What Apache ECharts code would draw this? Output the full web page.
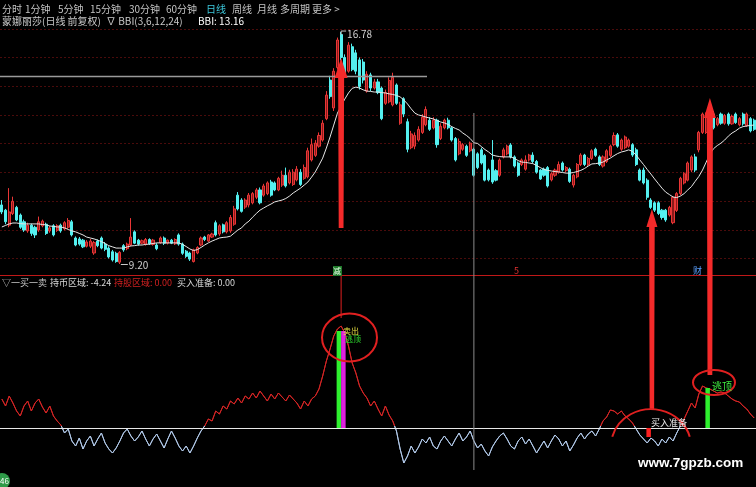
<!DOCTYPE html>
<html><head><meta charset="utf-8">
<script src="https://cdn.jsdelivr.net/npm/echarts@6/dist/echarts.min.js"></script>
<style>html,body{margin:0;padding:0;background:#000}#c{width:756px;height:487px}</style>
</head><body><div id="c"></div>
<script>
const open = [
11.13,10.96,10.47,10.85,11.05,10.80,10.58,10.28,10.47,10.40,
10.31,10.45,10.50,10.28,10.45,10.30,10.47,10.35,10.40,10.58,
10.05,10.02,9.98,9.78,9.78,9.56,9.95,10.05,9.85,9.72,
9.60,9.55,9.26,9.80,9.70,9.82,10.25,9.98,9.88,9.85,
10.00,9.84,9.82,9.90,10.05,9.88,9.98,9.86,10.15,9.85,
9.62,9.56,9.28,9.56,9.82,10.08,9.95,10.08,10.55,10.18,
10.48,10.25,10.28,10.50,11.45,11.29,11.06,11.13,11.20,11.38,
11.62,11.45,11.50,11.88,11.85,11.62,11.78,12.10,11.85,11.80,
11.95,12.20,12.00,12.05,12.60,12.75,13.05,13.25,13.95,15.21,
14.30,15.62,16.70,15.95,15.50,16.30,16.10,15.87,15.80,14.85,
15.38,14.95,15.15,14.95,14.45,14.50,14.40,15.05,13.80,14.60,
13.85,13.00,13.05,13.25,13.50,13.75,13.90,13.65,13.90,13.30,
13.65,13.90,13.65,13.30,12.80,12.95,13.05,12.90,12.95,12.80,
12.93,12.75,12.27,12.60,12.25,12.10,12.70,12.80,13.09,12.70,
12.50,12.45,12.30,12.60,12.76,12.55,12.27,12.30,12.35,11.95,
12.10,12.20,12.50,12.25,12.30,11.78,12.05,12.45,12.76,12.45,
12.65,12.95,12.70,12.40,12.55,12.75,13.10,13.42,12.95,13.00,
13.05,13.10,12.93,12.27,12.27,11.94,11.29,11.20,11.20,10.96,
10.96,10.80,10.55,10.95,11.50,11.85,11.94,12.27,12.70,12.93,
13.50,13.50,13.95,14.10,13.75,14.10,13.80,14.10,13.78,14.10,
13.75,14.10,13.72,13.95,13.90];
const close = [
10.90,10.58,10.90,11.25,10.64,10.40,10.31,10.47,10.20,10.15,
10.58,10.60,10.20,10.38,10.15,10.45,10.28,10.55,10.62,10.15,
9.82,9.85,9.76,9.92,9.95,9.90,9.80,9.72,9.68,9.43,
9.33,9.28,9.58,9.66,9.85,10.08,9.88,9.85,9.96,10.00,
9.86,9.98,9.70,10.05,9.88,9.98,9.88,10.00,9.85,9.55,
9.45,9.36,9.66,9.74,10.05,10.00,10.15,10.18,10.15,10.45,
10.25,10.55,10.72,11.00,11.00,10.92,11.29,11.45,11.50,11.62,
11.20,11.75,11.85,11.45,11.62,12.00,12.10,11.75,12.20,12.20,
12.30,11.80,12.35,12.90,13.10,13.15,13.40,13.80,14.72,14.67,
15.50,16.52,15.95,15.45,16.35,15.55,15.50,15.00,15.21,15.40,
14.95,15.15,14.80,13.95,14.80,15.20,15.30,14.45,14.40,14.10,
12.95,13.45,13.40,13.60,14.00,14.25,13.60,13.90,13.10,13.70,
13.90,13.65,13.25,12.60,13.20,13.10,12.75,13.15,12.10,12.35,
12.50,11.94,11.95,11.88,11.94,12.60,12.93,13.05,12.70,12.40,
12.10,12.60,12.60,12.76,12.55,12.20,11.98,12.10,11.75,12.15,
12.27,12.45,12.27,12.35,11.90,12.10,12.45,12.76,12.45,12.65,
12.90,12.75,12.45,12.70,12.90,13.05,13.40,13.05,13.25,13.35,
13.25,12.76,12.45,11.94,11.85,11.38,11.05,10.96,10.85,10.72,
10.64,11.05,11.38,11.50,12.00,12.15,12.50,12.70,12.27,13.50,
14.10,14.10,13.50,13.65,13.95,13.80,14.05,13.78,14.02,13.82,
13.95,13.78,14.10,13.55,13.60];
const low = [
10.83,10.50,10.40,10.80,10.60,10.35,10.25,10.22,10.12,10.05,
10.25,10.40,10.15,10.22,10.10,10.25,10.22,10.30,10.35,10.10,
9.78,9.80,9.72,9.74,9.72,9.50,9.75,9.68,9.62,9.38,
9.28,9.24,9.20,9.60,9.65,9.78,9.85,9.80,9.84,9.80,
9.82,9.80,9.65,9.86,9.82,9.84,9.85,9.82,9.80,9.50,
9.40,9.30,9.25,9.52,9.78,9.95,9.92,10.05,10.10,10.12,
10.20,10.20,10.22,10.45,10.95,10.88,11.00,11.05,11.15,11.32,
11.15,11.40,11.45,11.40,11.58,11.58,11.72,11.70,11.80,11.75,
11.90,11.75,11.95,12.00,12.55,12.70,13.00,13.20,13.90,14.60,
14.20,15.55,15.85,15.35,15.45,15.50,15.40,14.90,15.10,14.80,
14.85,14.90,14.75,13.90,14.40,14.45,14.35,14.40,13.75,14.00,
12.85,12.95,12.95,13.20,13.45,13.70,13.55,13.60,13.00,13.25,
13.60,13.60,13.20,12.55,12.75,12.90,12.70,12.85,12.05,12.30,
12.45,11.90,11.90,11.82,11.90,12.05,12.65,12.75,12.65,12.35,
12.05,12.40,12.25,12.55,12.50,12.15,11.95,12.05,11.70,11.90,
12.05,12.15,12.22,12.20,11.85,11.70,12.00,12.40,12.40,12.40,
12.60,12.70,12.40,12.35,12.50,12.70,13.05,13.00,12.90,12.95,
13.00,12.70,12.40,11.90,11.80,11.30,11.00,10.90,10.80,10.65,
10.58,10.75,10.50,10.90,11.45,11.80,11.90,12.20,12.20,12.85,
13.45,13.45,13.45,13.60,13.70,13.75,13.75,13.72,13.75,13.78,
13.70,13.72,13.68,13.50,13.55];
const high = [
11.29,11.00,11.68,11.40,11.10,10.85,10.65,10.55,10.52,10.45,
10.75,10.65,10.55,10.45,10.50,10.50,10.52,10.60,10.70,10.64,
10.10,10.08,10.02,9.98,10.02,9.95,10.00,10.10,9.92,9.78,
9.66,9.60,9.62,9.85,9.90,10.70,10.30,10.02,10.00,10.05,
10.04,10.02,9.88,10.10,10.10,10.00,10.02,10.04,10.20,9.90,
9.66,9.60,9.70,9.78,10.10,10.12,10.18,10.22,10.62,10.50,
10.52,10.60,10.80,11.10,11.55,11.35,11.35,11.52,11.55,11.68,
11.70,11.82,11.90,11.95,11.90,12.05,12.25,12.35,12.28,12.30,
12.40,12.30,12.45,13.00,13.30,13.25,13.50,13.90,14.85,15.35,
15.60,16.60,16.78,16.05,16.45,16.40,16.20,15.95,15.90,15.50,
15.45,15.25,15.25,15.00,14.90,15.30,15.45,15.10,14.50,14.65,
13.95,13.55,13.50,13.70,14.10,14.35,14.00,14.00,13.95,13.80,
13.95,13.98,13.70,13.35,13.30,13.15,13.10,13.20,13.00,12.85,
13.00,12.80,12.32,13.25,12.30,12.65,13.00,13.10,13.15,12.75,
12.55,12.65,12.75,12.80,12.85,12.60,12.30,12.35,12.40,12.20,
12.32,12.55,12.55,12.40,12.35,12.15,12.50,12.82,12.80,12.70,
12.95,13.00,12.75,12.75,12.95,13.10,13.50,13.48,13.30,13.40,
13.30,13.15,13.00,12.32,12.35,12.00,11.35,11.25,11.25,11.00,
11.00,11.10,11.42,11.55,12.05,12.20,12.55,12.75,12.80,13.55,
14.15,14.15,14.05,14.20,14.00,14.15,14.10,14.15,14.08,14.15,
14.00,14.15,14.15,14.00,13.95];
const bbi = [
10.41,10.46,10.51,10.54,10.54,10.52,10.51,10.51,10.51,10.51,
10.51,10.49,10.48,10.44,10.43,10.41,10.41,10.38,10.33,10.28,
10.25,10.20,10.15,10.08,10.05,10.02,9.98,9.93,9.87,9.80,
9.76,9.72,9.72,9.72,9.76,9.79,9.80,9.82,9.82,9.84,
9.85,9.87,9.89,9.89,9.89,9.89,9.89,9.89,9.89,9.84,
9.77,9.69,9.64,9.67,9.74,9.82,9.89,9.95,10.00,10.05,
10.07,10.08,10.11,10.21,10.31,10.38,10.51,10.60,10.73,10.85,
10.96,11.03,11.10,11.16,11.23,11.26,11.29,11.34,11.42,11.52,
11.60,11.68,11.78,11.88,12.04,12.21,12.43,12.66,12.99,13.35,
13.74,14.13,14.36,14.59,14.79,14.94,14.98,14.95,14.89,14.85,
14.84,14.82,14.82,14.80,14.79,14.76,14.74,14.71,14.66,14.56,
14.43,14.27,14.13,14.07,14.04,14.00,13.97,13.94,13.89,13.84,
13.81,13.76,13.69,13.63,13.58,13.48,13.40,13.30,13.16,13.14,
13.04,12.94,12.86,12.76,12.73,12.71,12.70,12.70,12.70,12.65,
12.58,12.53,12.52,12.50,12.48,12.42,12.35,12.29,12.26,12.24,
12.22,12.21,12.19,12.17,12.17,12.19,12.22,12.26,12.32,12.40,
12.47,12.48,12.50,12.53,12.60,12.66,12.74,12.81,12.86,12.89,
12.93,12.88,12.76,12.60,12.45,12.29,12.14,11.98,11.83,11.68,
11.55,11.47,11.39,11.37,11.42,11.50,11.62,11.73,11.90,12.06,
12.27,12.53,12.79,12.97,13.07,13.15,13.25,13.38,13.48,13.55,
13.64,13.69,13.71,13.73,13.74];
const signal = [
29,22,32,25,17,12,22,27,17,25,
29,21,15,22,12,7,3,-5,-1,-13,
-18,-10,-21,-13,-8,-18,-11,-5,-15,-21,
-25,-20,-13,-5,-1,-8,-13,-9,-3,-11,
-18,-11,-6,-13,-20,-11,-3,-10,-18,-23,
-18,-25,-18,-10,-3,2,9,7,17,14,
22,19,27,24,30,25,32,29,35,30,
37,32,27,34,29,35,31,27,33,29,
25,19,27,22,29,32,39,52,67,79,
92,99,102,95,82,65,55,42,35,30,
22,27,19,12,22,13,7,-3,-21,-35,
-28,-18,-25,-19,-11,-15,-9,-18,-21,-13,
-8,-13,-18,-11,-5,-13,-9,-3,-13,-20,
-16,-23,-28,-19,-13,-8,-5,-11,-18,-21,
-13,-9,-16,-11,-18,-25,-19,-13,-20,-13,
-7,-11,-18,-13,-23,-17,-10,-5,-11,-6,
-3,-8,-1,7,11,18,17,14,17,12,
9,5,-1,-7,-11,-15,-10,-13,-18,-11,
-15,-9,-13,-5,2,9,17,25,20,34,
42,40,39,37,35,36,35,32,29,27,
26,22,19,14,10];
// signal bars: [day index, value]
const sellGreenBars = [[92, 97], [192, 40]];
const sellMagentaBars = [[92, 97]];
const buyPrepBars = [[176, -9]];
const days = open.map((_, i) => 'D' + (i + 1));
const candles = open.map((o, i) => [o, close[i], low[i], high[i]]);

const FONT = '"Noto Sans CJK SC"';
const barA = sellGreenBars.map(d => ({value: d[1], idx: d[0], itemStyle: {color: '#2ef02e'}}))
  .concat(buyPrepBars.map(d => ({value: d[1], idx: d[0], itemStyle: {color: '#ff2020'}})));
const barB = sellMagentaBars.map(d => ({value: d[1], idx: d[0], itemStyle: {color: '#e020e0'}}));
function toSeriesData(items) {
  const arr = days.map(() => '-');
  items.forEach(it => { arr[it.idx] = {value: it.value, itemStyle: it.itemStyle}; });
  return arr;
}

const LOW_MIN = -59, LOW_MAX = 152;
const zeroOffset = LOW_MAX / (LOW_MAX - LOW_MIN);
const signalColor = {type: 'linear', x: 0, y: 0, x2: 0, y2: 1,
  colorStops: [{offset: 0, color: '#d42424'}, {offset: zeroOffset, color: '#d42424'},
               {offset: zeroOffset, color: '#b0c8e8'}, {offset: 1, color: '#b0c8e8'}]};

const chart = echarts.init(document.getElementById('c'), null, {renderer: 'canvas'});
const option = {
  backgroundColor: '#000',
  animation: false,
  grid: [
    {left: 0, right: 0, top: 28, height: 259.2},
    {left: 0, right: 0, top: 276, bottom: 0}
  ],
  xAxis: [
    {type: 'category', gridIndex: 0, data: days, boundaryGap: true, show: false},
    {type: 'category', gridIndex: 1, data: days, boundaryGap: true, show: false}
  ],
  yAxis: [
    {type: 'value', gridIndex: 0, min: 8.442, max: 16.912, interval: 0.938,
     axisLine: {show: false}, axisTick: {show: false}, axisLabel: {show: false},
     splitLine: {show: true, showMinLine: false, showMaxLine: false, lineStyle: {color: '#4a0b0b', type: [2, 2], width: 1}}},
    {type: 'value', gridIndex: 1, min: LOW_MIN, max: LOW_MAX,
     axisLine: {show: false}, axisTick: {show: false}, axisLabel: {show: false}, splitLine: {show: false}}
  ],
  series: [
    {type: 'candlestick', xAxisIndex: 0, yAxisIndex: 0, data: candles, barWidth: 2.6,
     itemStyle: {color: '#8a1a1a', color0: '#54f0f0', borderColor: '#ea3636', borderColor0: '#54f0f0', borderWidth: 1}},
    {type: 'line', xAxisIndex: 0, yAxisIndex: 0, data: bbi, showSymbol: false, smooth: false,
     lineStyle: {color: '#e6e6e6', width: 1}},
    {type: 'line', xAxisIndex: 1, yAxisIndex: 1, data: signal, showSymbol: false,
     lineStyle: {width: 1, color: signalColor},
     markLine: {silent: true, symbol: 'none', label: {show: false}, data: [{yAxis: 0}],
       lineStyle: {color: '#e8e8e8', type: 'solid', width: 1.2}}},
    {type: 'bar', xAxisIndex: 1, yAxisIndex: 1, data: toSeriesData(barA), barWidth: 4.5, barGap: '0%', z: 5},
    {type: 'bar', xAxisIndex: 1, yAxisIndex: 1, data: toSeriesData(barB), barWidth: 4.5, barGap: '0%', z: 5}
  ]
};
chart.setOption(option);

function P(i, v) { return chart.convertToPixel({xAxisIndex: 0, yAxisIndex: 0}, [i, v]); }
function Q(i, v) { return chart.convertToPixel({xAxisIndex: 1, yAxisIndex: 1}, [i, v]); }
function T(text, x, y, color, size, font) {
  return {type: 'text', x: x, y: y, z: 100,
    style: {text: text, fill: color, font: font || ((size || 10) + 'px ' + FONT), verticalAlign: 'middle'}};
}
function arrow(x, yTip, yBot, hw, hh, sw) {
  return {type: 'polygon', z: 60, shape: {points: [[x, yTip], [x + hw, yTip + hh], [x + sw, yTip + hh], [x + sw * 0.8, yBot], [x - sw * 0.8, yBot], [x - sw, yTip + hh], [x - hw, yTip + hh]]},
    style: {fill: '#f42a2a'}};
}
const peakIdx = high.indexOf(Math.max(...high));
const lowIdx = low.indexOf(Math.min(...low));
const pk = P(peakIdx, high[peakIdx]);
const lw = P(lowIdx, low[lowIdx]);
const a1 = P(92, 10)[0], a2 = P(176, 10)[0], a3 = P(192, 10)[0];
const cross = P(128, bbi[128]);
const zeroY = Q(0, 0)[1];

const g = [];
[['分时', 2], ['1分钟', 25], ['5分钟', 58], ['15分钟', 90], ['30分钟', 129], ['60分钟', 166], ['日线', 206, '#3cc8dc'], ['周线', 232], ['月线', 257], ['多周期', 280], ['更多 >', 312]]
  .forEach(t => g.push(T(t[0], t[1], 9, t[2] || '#c4c4c4', 10)));
g.push(T('蒙娜丽莎(日线 前复权)', 2, 21, '#c8c8c8', 10));
g.push(T('∇ BBI(3,6,12,24)', 106, 21, '#c8c8c8', 10));
g.push(T('BBI: ' + bbi[128].toFixed(2), 198, 21, '#ffffff', 10));
g.push(T('▽一买一卖', 2, 283, '#c8c8c8', 9));
g.push(T('持币区域: -4.24', 50, 283, '#d8d8d8', 9));
g.push(T('持股区域: 0.00', 114, 283, '#d02020', 9));
g.push(T('买入准备: 0.00', 177, 283, '#d8d8d8', 9));
g.push({type: 'line', z: 40, shape: {x1: 0, y1: 275.5, x2: 756, y2: 275.5}, style: {stroke: '#c01818', lineWidth: 1}});
g.push({type: 'line', z: 40, shape: {x1: 0, y1: 76.5, x2: 427, y2: 76.5}, style: {stroke: '#9a9a9a', lineWidth: 1.5}});
g.push({type: 'line', z: 40, shape: {x1: cross[0], y1: 113, x2: cross[0], y2: 470}, style: {stroke: '#8a8a8a', lineWidth: 1}});
g.push({type: 'polyline', z: 50, shape: {points: [[pk[0], pk[1] + 3], [pk[0], pk[1] - 1], [pk[0] + 5, pk[1] - 1]]}, style: {stroke: '#c8c8c8', lineWidth: 1, fill: null}});
g.push(T(high[peakIdx].toFixed(2), pk[0] + 6, pk[1] + 2, '#d0d0d0', 10));
g.push({type: 'line', z: 50, shape: {x1: lw[0] + 1, y1: lw[1] + 0.5, x2: lw[0] + 8, y2: lw[1] + 0.5}, style: {stroke: '#c8c8c8', lineWidth: 1}});
g.push(T(low[lowIdx].toFixed(2), lw[0] + 9, lw[1] + 1, '#d0d0d0', 10));
g.push({type: 'rect', z: 45, shape: {x: 333, y: 266, width: 9, height: 10}, style: {fill: '#1f7a2a'}});
g.push(T('减', 333, 271, '#e8ffe8', 8));
g.push(T('5', 514, 271, '#e03030', 9));
g.push(T('财', 693, 271, '#5aa0ff', 9));
g.push({type: 'line', z: 45, shape: {x1: a1, y1: 276, x2: a1, y2: 318}, style: {stroke: '#e02020', lineWidth: 1}});
g.push(arrow(a1, 58, 228, 6.5, 20, 3));
g.push(arrow(a2 + 1, 209, 410, 5.5, 18, 2.8));
g.push(arrow(a3, 98, 375, 6, 20, 3));
g.push({type: 'ellipse', z: 70, shape: {cx: 349.5, cy: 337.5, rx: 27.5, ry: 24}, style: {fill: null, stroke: '#e02020', lineWidth: 2}});
g.push({type: 'ellipse', z: 70, shape: {cx: 714, cy: 382.5, rx: 21, ry: 12.5}, style: {fill: null, stroke: '#e02020', lineWidth: 2}});
g.push({type: 'arc', z: 70, shape: {cx: 651, cy: 446, r: 40, startAngle: Math.PI * 1.08, endAngle: Math.PI * 1.92}, scaleY: 0.92, originX: 651, originY: 446, style: {fill: null, stroke: '#e02020', lineWidth: 2}});
g.push(T('卖出', 343, 331, '#e8e040', 8));
g.push(T('逃顶', 345, 339, '#30e030', 8));
g.push(T('逃顶', 712, 386, '#40f040', 10));
g.push(T('买入准备', 651, zeroY - 5, '#f0f0f0', 9));
g.push(T('www.7gpzb.com', 638, 463, '#ffffff', 13, 'bold 13.5px "Liberation Sans"'));
g.push({type: 'circle', z: 90, shape: {cx: 2, cy: 481, r: 8}, style: {fill: '#2e9a48'}});
g.push(T('46', 0, 481, '#ffffff', 8));
chart.setOption({graphic: g});
</script>
</body></html>
